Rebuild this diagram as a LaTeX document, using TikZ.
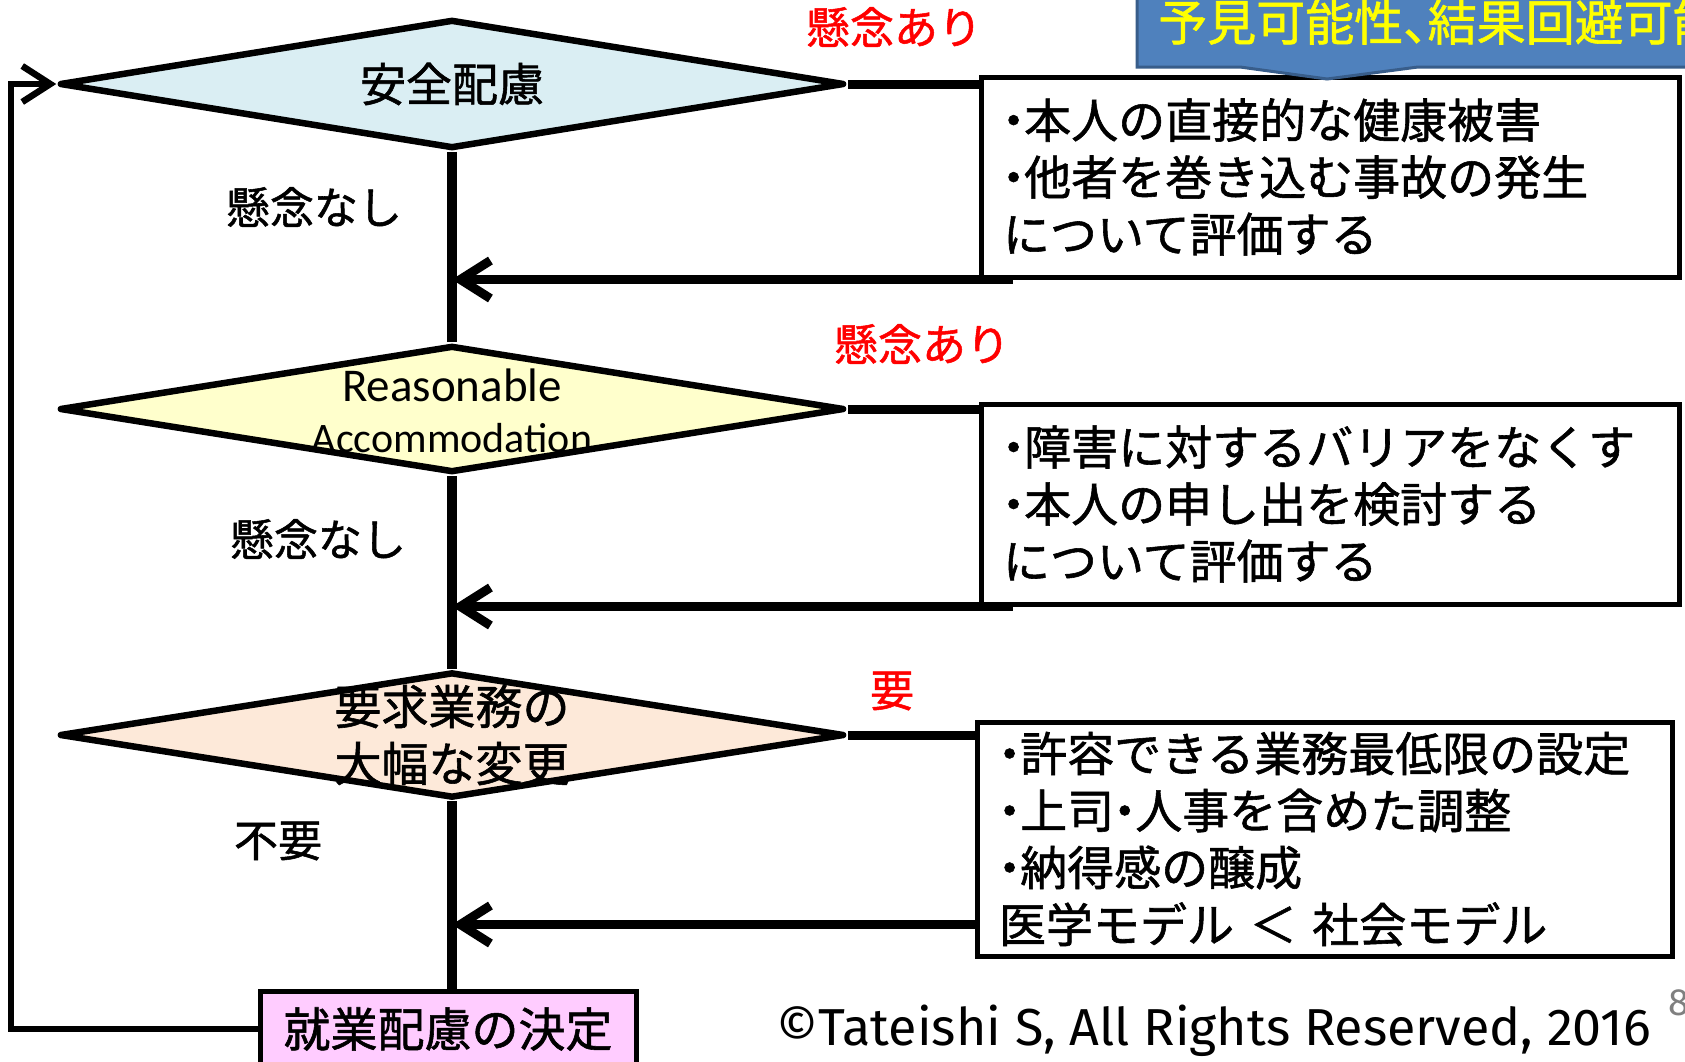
\documentclass[tikz,border=0pt]{standalone}
\usepackage{fontspec}
\newfontfamily\jpfont{Noto Sans CJK JP}[FakeBold=1.2]
\newfontfamily\calfont{Carlito}
\newfontfamily\crfont{Fira Sans}
\usetikzlibrary{shapes.geometric,arrows.meta,calc}
\definecolor{dblue}{HTML}{DAEEF3}
\definecolor{dyellow}{HTML}{FFFFCC}
\definecolor{dpeach}{HTML}{FDE9D9}
\definecolor{dpink}{HTML}{FFCCFF}
\definecolor{cblue}{HTML}{4F81BD}
\definecolor{cbluedark}{HTML}{385D8A}
\definecolor{cyellow}{HTML}{FFFF00}
\newcommand\bul{\makebox[0.45em][c]{・}}
\newcommand\tou{\makebox[0.5em][l]{、}}
\begin{document}
\begin{tikzpicture}[x=1pt,y=-1pt,
  diam/.style={shape=diamond, draw=black, line width=6.5pt, line join=round, inner sep=0pt, minimum width=785pt, minimum height=129pt},
  tbox/.style={draw=black, line width=5pt, fill=white, inner xsep=22pt, inner ysep=0pt, align=left, font=\jpfont\fontsize{47}{57}\selectfont},
  spine/.style={line width=9.5pt},
  link/.style={line width=9pt},
  ret/.style={line width=9pt, -{Straight Barb[length=30pt,width=38pt]}},
  loopl/.style={line width=6.5pt, line join=miter, -{Straight Barb[length=28pt,width=36pt]}},
  lab/.style={font=\jpfont\fontsize{44}{50}\selectfont, inner sep=0pt},
  redlab/.style={lab, text=red},
  dtext/.style={font=\jpfont\fontsize{46}{57}\selectfont, align=center, inner sep=0pt},
]
\useasboundingbox (0,0) rectangle (1685,1061);
\clip (0,0) rectangle (1685,1061);
\fill[white] (0,0) rectangle (1685,1061);

% diamonds
\node[diam, fill=dblue] (d1) at (452,84) {};
\node[diam, fill=dyellow, minimum height=127pt] (d2) at (452,409) {};
\node[diam, fill=dpeach, minimum height=126pt] (d3) at (452,735) {};

% final box
\node[draw=black, line width=5pt, fill=dpink, minimum width=376pt, minimum height=76pt, inner sep=0pt, font=\jpfont\fontsize{47}{50}\selectfont] (f) at (448,1029) {就業配慮の決定};

% spine
\draw[spine] (d1.south) -- (d2.north);
\draw[spine] (d2.south) -- (d3.north);
\draw[spine] (d3.south) -- (d3.south |- f.north);

% diamond texts
\node[dtext] (t1) at (d1.center) {安全配慮};
\node[font=\calfont\fontsize{47}{53}\selectfont, inner sep=0pt] (t2a) at (452,385) {Reasonable};
\node[font=\calfont\fontsize{42}{53}\selectfont, inner sep=0pt] (t2b) at (452,438) {Accommodation};
\node[dtext, font=\jpfont\fontsize{47}{57}\selectfont] (t3) at (d3.center) {要求業務の\\大幅な変更};

% labels
\node[lab] (n1) at (314,207) {懸念なし};
\node[lab] (n2) at (318,539) {懸念なし};
\node[lab] (n3) at (278,841) {不要};
\node[redlab] (y1) at (894,27) {懸念あり};
\node[redlab] (y2) at (922,344) {懸念あり};
\node[redlab] (y3) at (892,691) {要};

% right boxes
\node[tbox, text width=654pt, minimum height=200pt] (b1) at (1330,177)
  {\bul 本人の直接的な健康被害\\\bul 他者を巻き込む事故の発生\\について評価する};
\node[tbox, text width=654pt, minimum height=200pt] (b2) at (1330,504)
  {\bul 障害に対するバリアをなくす\\\bul 本人の申し出を検討する\\について評価する};
\node[tbox, text width=651pt, minimum height=234pt] (b3) at (1324.5,839)
  {\bul 許容できる業務最低限の設定\\\bul 上司\bul 人事を含めた調整\\\bul 納得感の醸成\\医学モデル ＜ 社会モデル};

% links to boxes
\draw[link] (d1.east) -- (d1.east -| b1.west);
\draw[link] (d2.east) -- (d2.east -| b2.west);
\draw[link] (d3.east) -- (d3.east -| b3.west);

% return arrows
\coordinate (r1) at ($(b1.south west)+(34,0)$);
\coordinate (r2) at ($(b2.south west)+(34,0)$);
\coordinate (r3) at ($(b3.south west)+(0,-34)$);
\draw[ret] (r1) -- (r1 -| d1.south);
\draw[ret] (r2) -- (r2 -| d2.south);
\draw[ret] (r3) -- (r3 -| d3.south);

% loop back
\coordinate (lc) at (11,84);
\draw[loopl] (f.west) -| (lc) -- (d1.west);

% callout
\filldraw[fill=cblue, draw=cbluedark, line width=3pt] (1137,-10) -- (1137,67) -- (1240,67) -- (1327,79) -- (1418,67) -- (1700,67) -- (1700,-10) -- cycle;
\node[font=\jpfont\fontsize{49}{50}\selectfont, text=cyellow, anchor=west, inner sep=0pt] (call) at (1158,22) {予見可能性\tou 結果回避可能性};

% copyright
\node[font=\crfont\fontsize{52}{56}\selectfont, anchor=base west, inner sep=0pt] (copy) at (776,1045) {©Tateishi S, All Rights Reserved, 2016};
\node[font=\crfont\fontsize{38}{40}\selectfont, text=gray, anchor=west, inner sep=0pt] (pg) at (1668,1003) {8};
\end{tikzpicture}
\end{document}
